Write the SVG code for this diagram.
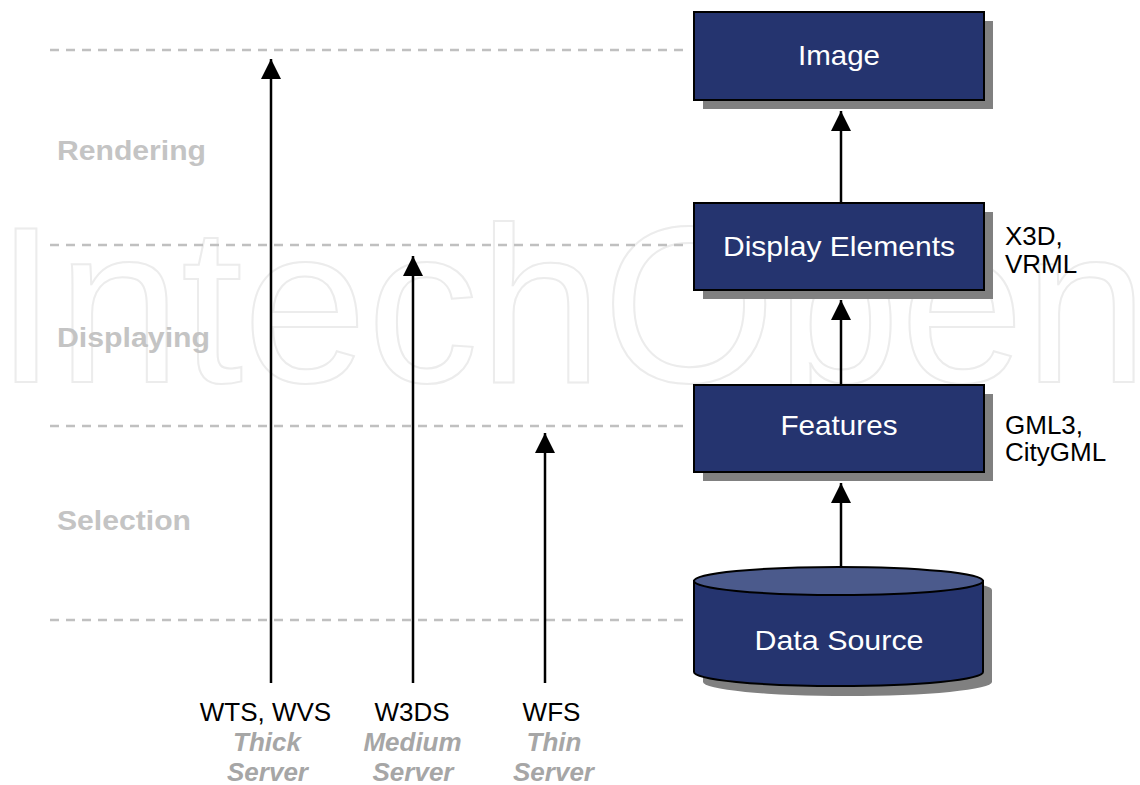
<svg xmlns="http://www.w3.org/2000/svg" width="1140" height="785" viewBox="0 0 1140 785">
<defs>
<marker id="ah" markerUnits="userSpaceOnUse" markerWidth="20" markerHeight="20" viewBox="0 0 20 20" refX="20" refY="10" orient="auto"><path d="M0,0 L20,10 L0,20 z" fill="#000"/></marker>
</defs>
<style>
.wm{font-family:"Liberation Sans",Arial,sans-serif;font-size:223px;fill:none;stroke:#ececec;stroke-width:2}
.dash{stroke:#c0c0c0;stroke-width:2.5;stroke-dasharray:9 7}
.stage{font-family:"Liberation Sans",Arial,sans-serif;font-weight:bold;font-size:27px;fill:#c4c4c4}
.box{fill:#25346f;stroke:#000;stroke-width:2}
.top{fill:#4b5a8c;stroke:#000;stroke-width:2}
.shadow{fill:#808080}
.bt{font-family:"Liberation Sans",Arial,sans-serif;font-size:28px;fill:#fff;text-anchor:middle}
.lbl{font-family:"Liberation Sans",Arial,sans-serif;font-size:26px;fill:#000}
.svc{font-family:"Liberation Sans",Arial,sans-serif;font-size:26px;fill:#000;text-anchor:middle}
.srv{font-family:"Liberation Sans",Arial,sans-serif;font-size:26px;font-weight:bold;font-style:italic;fill:#a6a6a6;text-anchor:middle}
.arr{stroke:#000;stroke-width:2.5;fill:none;marker-end:url(#ah)}
</style>
<rect width="1140" height="785" fill="#fff"/>
<text class="wm" x="-5" y="382">IntechOpen</text>
<g id="levels">
<line class="dash" x1="50" y1="50" x2="690" y2="50"/>
<line class="dash" x1="50" y1="245" x2="690" y2="245"/>
<line class="dash" x1="50" y1="426" x2="690" y2="426"/>
<line class="dash" x1="50" y1="620" x2="690" y2="620"/>
<text class="stage" x="57" y="160" textLength="149" lengthAdjust="spacingAndGlyphs">Rendering</text>
<text class="stage" x="57" y="347" textLength="153" lengthAdjust="spacingAndGlyphs">Displaying</text>
<text class="stage" x="57" y="530" textLength="134" lengthAdjust="spacingAndGlyphs">Selection</text>
</g>
<g id="connectors">
<line class="arr" x1="841" y1="567" x2="841" y2="483"/>
<line class="arr" x1="841" y1="385" x2="841" y2="300"/>
<line class="arr" x1="841" y1="203" x2="841" y2="111"/>
<line class="arr" x1="271" y1="683" x2="271" y2="59"/>
<line class="arr" x1="413" y1="683" x2="413" y2="256"/>
<line class="arr" x1="545" y1="683" x2="545" y2="433"/>
</g>
<g id="image">
<rect class="shadow" x="703" y="21" width="290" height="88"/>
<rect class="box" x="694" y="12" width="290" height="88"/>
<text class="bt" x="839" y="65" textLength="82" lengthAdjust="spacingAndGlyphs">Image</text>
</g>
<g id="display-elements">
<rect class="shadow" x="703" y="212" width="290" height="87"/>
<rect class="box" x="694" y="203" width="290" height="87"/>
<text class="bt" x="839" y="256" textLength="232" lengthAdjust="spacingAndGlyphs">Display Elements</text>
<text class="lbl" x="1005" y="245">X3D,</text>
<text class="lbl" x="1005" y="273">VRML</text>
</g>
<g id="features">
<rect class="shadow" x="703" y="394" width="290" height="87"/>
<rect class="box" x="694" y="385" width="290" height="87"/>
<text class="bt" x="839" y="435" textLength="117" lengthAdjust="spacingAndGlyphs">Features</text>
<text class="lbl" x="1005" y="434">GML3,</text>
<text class="lbl" x="1005" y="461">CityGML</text>
</g>
<g id="data-source">
<path class="shadow" d="M703,590 V682 A144.5,14 0 0 0 992,682 V590 A144.5,14 0 0 0 703,590 Z"/>
<path class="box" d="M694,581 V672 A144.5,14 0 0 0 983,672 V581 Z"/>
<ellipse class="top" cx="838.5" cy="581" rx="144.5" ry="14"/>
<text class="bt" x="839" y="650" textLength="169" lengthAdjust="spacingAndGlyphs">Data Source</text>
</g>
<g id="wts">
<text class="svc" x="265.5" y="721">WTS, WVS</text>
<text class="srv" x="267" y="751">Thick</text>
<text class="srv" x="267.5" y="781">Server</text>
</g>
<g id="w3ds">
<text class="svc" x="412" y="721">W3DS</text>
<text class="srv" x="412.5" y="751">Medium</text>
<text class="srv" x="413" y="781">Server</text>
</g>
<g id="wfs">
<text class="svc" x="551.5" y="721">WFS</text>
<text class="srv" x="554" y="751">Thin</text>
<text class="srv" x="553.5" y="781">Server</text>
</g>
</svg>
